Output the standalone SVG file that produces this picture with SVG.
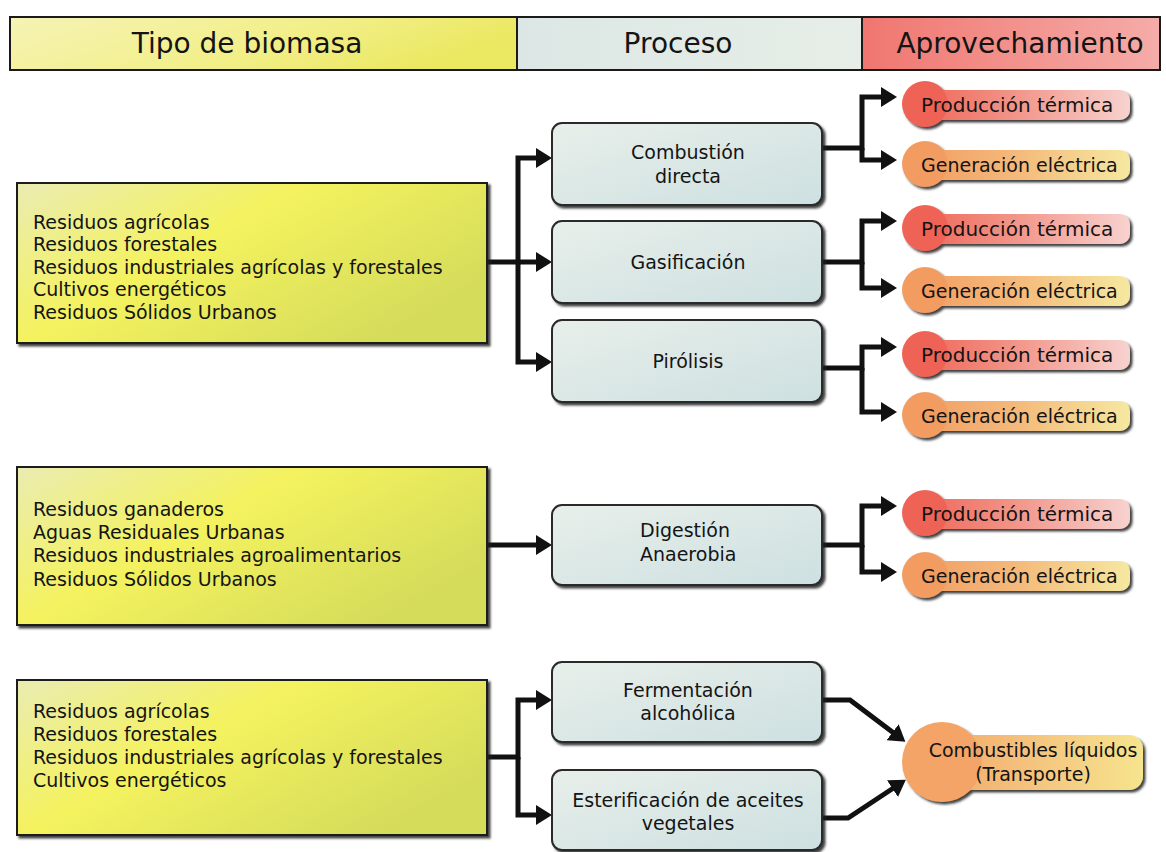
<svg xmlns="http://www.w3.org/2000/svg" width="1166" height="852" viewBox="0 0 1166 852">
<style>
text{font-family:"DejaVu Sans","Verdana",sans-serif;fill:#141414}
.h{font-size:28px;text-anchor:middle}
.t{font-size:19px}
.p{font-size:19px;text-anchor:middle}
.ap{font-size:19px}
.pt{font-size:20px}
.cn{fill:none;stroke:#111;stroke-width:5;stroke-linejoin:miter}
.big{fill:url(#bigY);stroke:#1a1a1a;stroke-width:2}
.proc{fill:url(#procG);stroke:#2a2a2a;stroke-width:2}
</style>
<defs>
<linearGradient id="hdrY" x1="0" y1="0" x2="1" y2="0.3"><stop offset="0" stop-color="#f6f3b6"/><stop offset="0.6" stop-color="#f2ef8a"/><stop offset="1" stop-color="#ebe862"/></linearGradient>
<linearGradient id="hdrB" x1="0" y1="0" x2="1" y2="0"><stop offset="0" stop-color="#dce7e5"/><stop offset="1" stop-color="#e7eee7"/></linearGradient>
<linearGradient id="hdrR" x1="0" y1="0" x2="1" y2="0"><stop offset="0" stop-color="#f07670"/><stop offset="1" stop-color="#f5aca8"/></linearGradient>
<linearGradient id="bigY" x1="0" y1="0" x2="1" y2="0.6"><stop offset="0" stop-color="#eaecb2"/><stop offset="0.45" stop-color="#f4f25e"/><stop offset="1" stop-color="#d5dc5a"/></linearGradient>
<linearGradient id="procG" x1="0" y1="0" x2="1" y2="1"><stop offset="0" stop-color="#e8efea"/><stop offset="1" stop-color="#cde0e1"/></linearGradient>
<linearGradient id="ptG" x1="0" y1="0" x2="1" y2="0"><stop offset="0" stop-color="#ee6456"/><stop offset="0.45" stop-color="#f29286"/><stop offset="1" stop-color="#f7d2cf"/></linearGradient>
<linearGradient id="geG" x1="0" y1="0" x2="1" y2="0"><stop offset="0" stop-color="#f29c62"/><stop offset="0.5" stop-color="#f4bb7c"/><stop offset="1" stop-color="#f6e8a0"/></linearGradient>
<linearGradient id="clG" x1="0" y1="0" x2="1" y2="0"><stop offset="0" stop-color="#f3a466"/><stop offset="0.5" stop-color="#f4c47e"/><stop offset="1" stop-color="#f6e48e"/></linearGradient>
<filter id="sh" x="-5%" y="-10%" width="115%" height="130%"><feDropShadow dx="2.5" dy="2.5" stdDeviation="0.8" flood-color="#222" flood-opacity="0.85"/></filter>
<marker id="ah" markerUnits="userSpaceOnUse" markerWidth="18" markerHeight="20" refX="3" refY="10" orient="auto"><path d="M0,0 L16,10 L0,20 z" fill="#111"/></marker>
</defs>
<rect width="1166" height="852" fill="#fff"/>

<g id="header">
<rect x="10" y="17" width="507" height="53" fill="url(#hdrY)" stroke="#1a1a1a" stroke-width="2"/>
<rect x="517" y="17" width="345" height="53" fill="url(#hdrB)" stroke="#1a1a1a" stroke-width="2"/>
<rect x="862" y="17" width="298" height="53" fill="url(#hdrR)" stroke="#1a1a1a" stroke-width="2"/>
<text class="h" x="247" y="53">Tipo de biomasa</text>
<text class="h" x="678" y="53">Proceso</text>
<text class="h" x="1020" y="53">Aprovechamiento</text>
</g>

<g id="connectors">
<path class="cn" marker-end="url(#ah)" d="M488,262 H518 V158 H539"/>
<path class="cn" marker-end="url(#ah)" d="M518,262 H539"/>
<path class="cn" marker-end="url(#ah)" d="M518,262 V362 H539"/>
<path class="cn" marker-end="url(#ah)" d="M488,545 H539"/>
<path class="cn" marker-end="url(#ah)" d="M488,757 H518 V700 H539"/>
<path class="cn" marker-end="url(#ah)" d="M518,757 V815 H539"/>
<path class="cn" marker-end="url(#ah)" d="M822,148 H862 V97 H884"/>
<path class="cn" marker-end="url(#ah)" d="M862,148 V160 H884"/>
<path class="cn" marker-end="url(#ah)" d="M822,262 H862 V221 H884"/>
<path class="cn" marker-end="url(#ah)" d="M862,262 V288 H884"/>
<path class="cn" marker-end="url(#ah)" d="M822,368 H862 V347 H884"/>
<path class="cn" marker-end="url(#ah)" d="M862,368 V412 H884"/>
<path class="cn" marker-end="url(#ah)" d="M822,545 H862 V506 H884"/>
<path class="cn" marker-end="url(#ah)" d="M862,545 V572 H884"/>
<path class="cn" marker-end="url(#ah)" d="M822,700 H850 L895,734"/>
<path class="cn" marker-end="url(#ah)" d="M822,818 H848 L895,787"/>
</g>

<g id="biomasa1">
<rect class="big" x="17" y="183" width="470" height="160" filter="url(#sh)"/>
<text class="t" x="33" y="229">Residuos agrícolas</text>
<text class="t" x="33" y="251">Residuos forestales</text>
<text class="t" x="33" y="274">Residuos industriales agrícolas y forestales</text>
<text class="t" x="33" y="296">Cultivos energéticos</text>
<text class="t" x="33" y="319">Residuos Sólidos Urbanos</text>
</g>
<g id="biomasa2">
<rect class="big" x="17" y="467" width="470" height="158" filter="url(#sh)"/>
<text class="t" x="33" y="516">Residuos ganaderos</text>
<text class="t" x="33" y="539">Aguas Residuales Urbanas</text>
<text class="t" x="33" y="562">Residuos industriales agroalimentarios</text>
<text class="t" x="33" y="586">Residuos Sólidos Urbanos</text>
</g>
<g id="biomasa3">
<rect class="big" x="17" y="680" width="470" height="155" filter="url(#sh)"/>
<text class="t" x="33" y="718">Residuos agrícolas</text>
<text class="t" x="33" y="741">Residuos forestales</text>
<text class="t" x="33" y="764">Residuos industriales agrícolas y forestales</text>
<text class="t" x="33" y="787">Cultivos energéticos</text>
</g>

<g id="combustion">
<rect class="proc" x="552" y="123" width="270" height="82" rx="10" filter="url(#sh)"/>
<text class="p" x="688" y="159">Combustión</text>
<text class="p" x="688" y="183">directa</text>
</g>
<g id="gasificacion">
<rect class="proc" x="552" y="221" width="270" height="82" rx="10" filter="url(#sh)"/>
<text class="p" x="688" y="269">Gasificación</text>
</g>
<g id="pirolisis">
<rect class="proc" x="552" y="320" width="270" height="82" rx="10" filter="url(#sh)"/>
<text class="p" x="688" y="368">Pirólisis</text>
</g>
<g id="digestion">
<rect class="proc" x="552" y="505" width="270" height="80" rx="10" filter="url(#sh)"/>
<text class="t" x="640" y="537">Digestión</text>
<text class="t" x="640" y="561">Anaerobia</text>
</g>
<g id="fermentacion">
<rect class="proc" x="552" y="662" width="270" height="80" rx="10" filter="url(#sh)"/>
<text class="p" x="688" y="697">Fermentación</text>
<text class="p" x="688" y="720">alcohólica</text>
</g>
<g id="esterificacion">
<rect class="proc" x="552" y="770" width="270" height="80" rx="10" filter="url(#sh)"/>
<text class="p" x="688" y="807">Esterificación de aceites</text>
<text class="p" x="688" y="830">vegetales</text>
</g>

<g id="pt1"><g filter="url(#sh)"><rect x="912" y="90" width="218" height="30" rx="10" fill="url(#ptG)"/><circle cx="925" cy="104" r="23" fill="#ee6456"/></g><text class="ap pt" x="921" y="112">Producción térmica</text></g>
<g id="ge1"><g filter="url(#sh)"><rect x="912" y="150" width="218" height="30" rx="10" fill="url(#geG)"/><circle cx="925" cy="164" r="23" fill="#f29c62"/></g><text class="ap" x="921" y="172">Generación eléctrica</text></g>
<g id="pt2"><g filter="url(#sh)"><rect x="912" y="214" width="218" height="30" rx="10" fill="url(#ptG)"/><circle cx="925" cy="228" r="23" fill="#ee6456"/></g><text class="ap pt" x="921" y="236">Producción térmica</text></g>
<g id="ge2"><g filter="url(#sh)"><rect x="912" y="276" width="218" height="30" rx="10" fill="url(#geG)"/><circle cx="925" cy="290" r="23" fill="#f29c62"/></g><text class="ap" x="921" y="298">Generación eléctrica</text></g>
<g id="pt3"><g filter="url(#sh)"><rect x="912" y="340" width="218" height="30" rx="10" fill="url(#ptG)"/><circle cx="925" cy="354" r="23" fill="#ee6456"/></g><text class="ap pt" x="921" y="362">Producción térmica</text></g>
<g id="ge3"><g filter="url(#sh)"><rect x="912" y="401" width="218" height="30" rx="10" fill="url(#geG)"/><circle cx="925" cy="415" r="23" fill="#f29c62"/></g><text class="ap" x="921" y="423">Generación eléctrica</text></g>
<g id="pt4"><g filter="url(#sh)"><rect x="912" y="499" width="218" height="30" rx="10" fill="url(#ptG)"/><circle cx="925" cy="513" r="23" fill="#ee6456"/></g><text class="ap pt" x="921" y="521">Producción térmica</text></g>
<g id="ge4"><g filter="url(#sh)"><rect x="912" y="561" width="218" height="30" rx="10" fill="url(#geG)"/><circle cx="925" cy="575" r="23" fill="#f29c62"/></g><text class="ap" x="921" y="583">Generación eléctrica</text></g>

<g id="combustibles"><g filter="url(#sh)"><rect x="920" y="735" width="223" height="55" rx="14" fill="url(#clG)"/><circle cx="942" cy="762" r="40" fill="#f3a466"/></g>
<text class="p" x="1033" y="757">Combustibles líquidos</text>
<text class="p" x="1033" y="781">(Transporte)</text></g>
</svg>
